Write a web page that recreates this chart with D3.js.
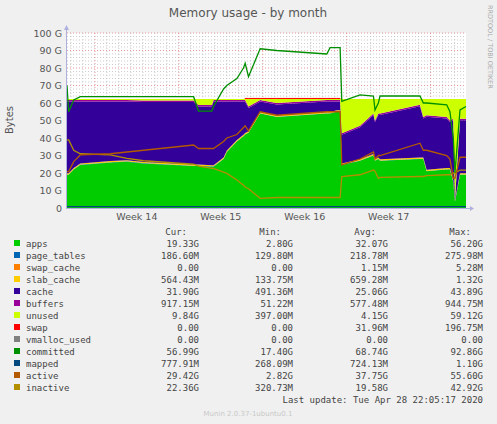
<!DOCTYPE html>
<html><head><meta charset="utf-8">
<script src="https://cdn.jsdelivr.net/npm/d3@7"></script>
<style>body{margin:0;background:#f0f0f0}svg{display:block}</style>
</head><body><svg id="chart" width="497" height="424"></svg>
<script>
// sample times, days since start of graph
var days = [0,0.14,0.56,1.11,3.61,5,6.39,10.56,10.97,12.08,12.22,13.06,13.33,14.17,14.72,14.86,15.14,16.11,17.5,21.67,21.94,22.5,22.78,22.92,24.44,25.56,25.69,25.97,26.11,29.44,29.72,30,31.67,31.94,32.22,32.36,32.78,33.28];
var apps = [19,19,22,24.6,26,26.5,25.5,24,24,23.6,23.6,28,32,38,41,42,43,54,52,54,54,55,55,24.6,27,30,27,28,27,28,28,21,22,22,15,3.6,19,19];
var usedTop = [61.7,61.7,61.7,61.7,61.7,61.7,61.5,61.5,58.9,58.9,61.7,61.7,61.7,61.7,61.7,61.7,58,61.7,60,61.7,61.7,61.7,61.7,42.7,47,54,50,54,54,59,52,53,52,50,51,3.6,51,51];
var committed = [70,55,61.7,63.6,63.6,63.6,63.6,63.6,55.4,55.4,58,68,70,74,80,82.7,75,91,90,88,91.6,91.6,91.6,61,64.6,64,56,60,64,64,60,60,59,55,40,20,56,58];
var active = [20.8,20.8,26.5,30.3,31,32,33,36,34,34,34,38,40,42,46,47,44,55,53,55,55,55,55,24.6,28,32,28,30,30,37,33,33,30,28,17,17,29,29];
var inactive = [38.9,38.9,33,31,30.3,28.4,27,25,24,22.7,22.7,20.5,19.8,16,13,12,11,5.5,6,6,6,6,6,17.9,19,21.7,21,17,17.5,18,18,18.5,19,19,20,20,21.7,21.7];
var ramTotal = 62.3, pageTables = 0.19, slabCache = 0.6, buffers = 0.9, mapped = 0.8;
var swapOn = [14.86, 22.78];

var yTicks = [0,10,20,30,40,50,60,70,80,90,100];
var weekLabels = ['Week 14','Week 15','Week 16','Week 17'];
var weekStarts = [2.33,9.33,16.33,23.33,30.33];

var legendNames = ['apps','page_tables','swap_cache','slab_cache','cache','buffers','unused','swap','vmalloc_used','committed','mapped','active','inactive'];
var legendColors = ['#00cc00','#0066b3','#ff8000','#ffcc00','#330099','#990099','#ccff00','#ff0000','#808080','#008f00','#00487d','#b35a00','#b38f00'];
var curVals = ['19.33G','186.60M','0.00','564.43M','31.90G','917.15M','9.84G','0.00','0.00','56.99G','777.91M','29.42G','22.36G'];
var minVals = ['2.80G','129.80M','0.00','133.75M','491.36M','51.22M','397.00M','0.00','0.00','17.40G','268.09M','2.82G','320.73M'];
var avgVals = ['32.07G','218.78M','1.15M','659.28M','25.06G','577.48M','4.15G','31.96M','0.00','68.74G','724.13M','37.75G','19.58G'];
var maxVals = ['56.20G','275.98M','5.28M','1.32G','43.89G','944.75M','59.12G','196.75M','0.00','92.86G','1.10G','55.60G','42.92G'];

var svg = d3.select('#chart');
var x = d3.scaleLinear().domain([0, 33.28]).range([67, 466]);
var y = d3.scaleLinear().domain([0, 100]).range([208, 33]);

svg.append('rect').attr('x', 67).attr('y', 33).attr('width', 399).attr('height', 175).attr('fill', '#fff');

// grid
var g = svg.append('g');
d3.range(0, 101, 2).forEach(function(v) {
    g.append('line').attr('x1', 67).attr('x2', 466).attr('y1', y(v)).attr('y2', y(v))
        .attr('stroke', v % 10 == 0 ? '#e08080' : '#c0c0c0').attr('stroke-dasharray', '1,2').attr('stroke-width', 0.8);
});
d3.range(0.33, 33.28, 1).forEach(function(d) {
    var major = weekStarts.some(function(w) { return Math.abs(w - d) < 0.01; });
    g.append('line').attr('y1', 33).attr('y2', 208).attr('x1', x(d)).attr('x2', x(d))
        .attr('stroke', major ? '#e08080' : '#c0c0c0').attr('stroke-dasharray', '1,2').attr('stroke-width', 0.8);
});

// stacked areas
var rows = days.map(function(d, i) {
    var cache = Math.max(0, usedTop[i] - apps[i] - pageTables - slabCache - buffers);
    var sw = (d >= swapOn[0] && d <= swapOn[1]) ? 0.3 : 0;
    return {day: d, apps: apps[i], page_tables: pageTables, swap_cache: 0, slab_cache: slabCache,
        cache: cache, buffers: buffers, unused: Math.max(0, ramTotal - Math.max(usedTop[i], apps[i] + pageTables + slabCache + buffers)), swap: sw};
});
var keys = ['apps','page_tables','swap_cache','slab_cache','cache','buffers','unused','swap'];
var stack = d3.stack().keys(keys)(rows);
var area = d3.area().x(function(d) { return x(d.data.day); }).y0(function(d) { return y(d[0]); }).y1(function(d) { return y(d[1]); });
stack.forEach(function(s) {
    svg.append('path').datum(s).attr('d', area).attr('fill', legendColors[legendNames.indexOf(s.key)]);
});
// swap line on top while non-zero
var swapTop = stack[7].filter(function(d) { return d.data.swap > 0; });
svg.append('path').datum(swapTop).attr('fill', 'none').attr('stroke', '#ff0000').attr('stroke-width', 1)
    .attr('d', d3.line().x(function(d) { return x(d.data.day); }).y(function(d) { return y(d[1]); }));

function drawLine(vals, color) {
    svg.append('path').datum(vals).attr('fill', 'none').attr('stroke', color).attr('stroke-width', 1.3)
        .attr('d', d3.line().x(function(d, i) { return x(days[i]); }).y(function(d) { return y(d); }));
}
drawLine(days.map(function() { return mapped; }), '#00487d');
drawLine(inactive, '#b38f00');
drawLine(active, '#b35a00');
drawLine(committed, '#008f00');

// axes
svg.append('line').attr('x1', 66).attr('x2', 470).attr('y1', 208.5).attr('y2', 208.5).attr('stroke', '#b0b0e0');
svg.append('line').attr('x1', 66.5).attr('x2', 66.5).attr('y1', 28).attr('y2', 208).attr('stroke', '#b0b0e0');
svg.append('path').attr('d', 'M470,206 L474,208.5 L470,211 Z').attr('fill', '#b0b0e0');
svg.append('path').attr('d', 'M64,30 L66.5,25 L69,30 Z').attr('fill', '#b0b0e0');

var font = 'DejaVu Sans, sans-serif';
yTicks.forEach(function(v) {
    svg.append('text').attr('x', 62).attr('y', y(v) + 3.5).attr('text-anchor', 'end')
        .attr('font-family', font).attr('font-size', 9.5).attr('fill', '#555').text(v == 0 ? '0' : v + ' G');
});
weekLabels.forEach(function(l, i) {
    svg.append('text').attr('x', x((weekStarts[i] + weekStarts[i + 1]) / 2)).attr('y', 220).attr('text-anchor', 'middle')
        .attr('font-family', font).attr('font-size', 9.5).attr('fill', '#555').text(l);
});
svg.append('text').attr('x', 248).attr('y', 17).attr('text-anchor', 'middle').attr('font-family', font)
    .attr('font-size', 12).attr('fill', '#555').text('Memory usage - by month');
svg.append('text').attr('transform', 'translate(13,120) rotate(-90)').attr('text-anchor', 'middle')
    .attr('font-family', font).attr('font-size', 10).attr('fill', '#555').text('Bytes');
svg.append('text').attr('transform', 'translate(488,5) rotate(90)').attr('font-family', font)
    .attr('font-size', 6.5).attr('fill', '#aaa').text('RRDTOOL / TOBI OETIKER');

// legend
var mono = 'DejaVu Sans Mono, monospace';
var cols = [199, 293, 388, 483];
['Cur:','Min:','Avg:','Max:'].forEach(function(h, i) {
    svg.append('text').attr('x', cols[i] - 12).attr('y', 235).attr('text-anchor', 'end')
        .attr('font-family', mono).attr('font-size', 9).attr('fill', '#444').text(h);
});
legendNames.forEach(function(n, i) {
    var ry = 247 + i * 12;
    svg.append('rect').attr('x', 14).attr('y', ry - 7).attr('width', 6).attr('height', 6).attr('fill', legendColors[i]);
    svg.append('text').attr('x', 26).attr('y', ry).attr('font-family', mono).attr('font-size', 9).attr('fill', '#444').text(n);
    [curVals, minVals, avgVals, maxVals].forEach(function(arr, j) {
        svg.append('text').attr('x', cols[j]).attr('y', ry).attr('text-anchor', 'end')
            .attr('font-family', mono).attr('font-size', 9).attr('fill', '#444').text(arr[i]);
    });
});
svg.append('text').attr('x', 483).attr('y', 403).attr('text-anchor', 'end').attr('font-family', mono)
    .attr('font-size', 9).attr('fill', '#444').text('Last update: Tue Apr 28 22:05:17 2020');
svg.append('text').attr('x', 248).attr('y', 416).attr('text-anchor', 'middle').attr('font-family', font)
    .attr('font-size', 7).attr('fill', '#c8c8c8').text('Munin 2.0.37-1ubuntu0.1');
</script></body></html>
